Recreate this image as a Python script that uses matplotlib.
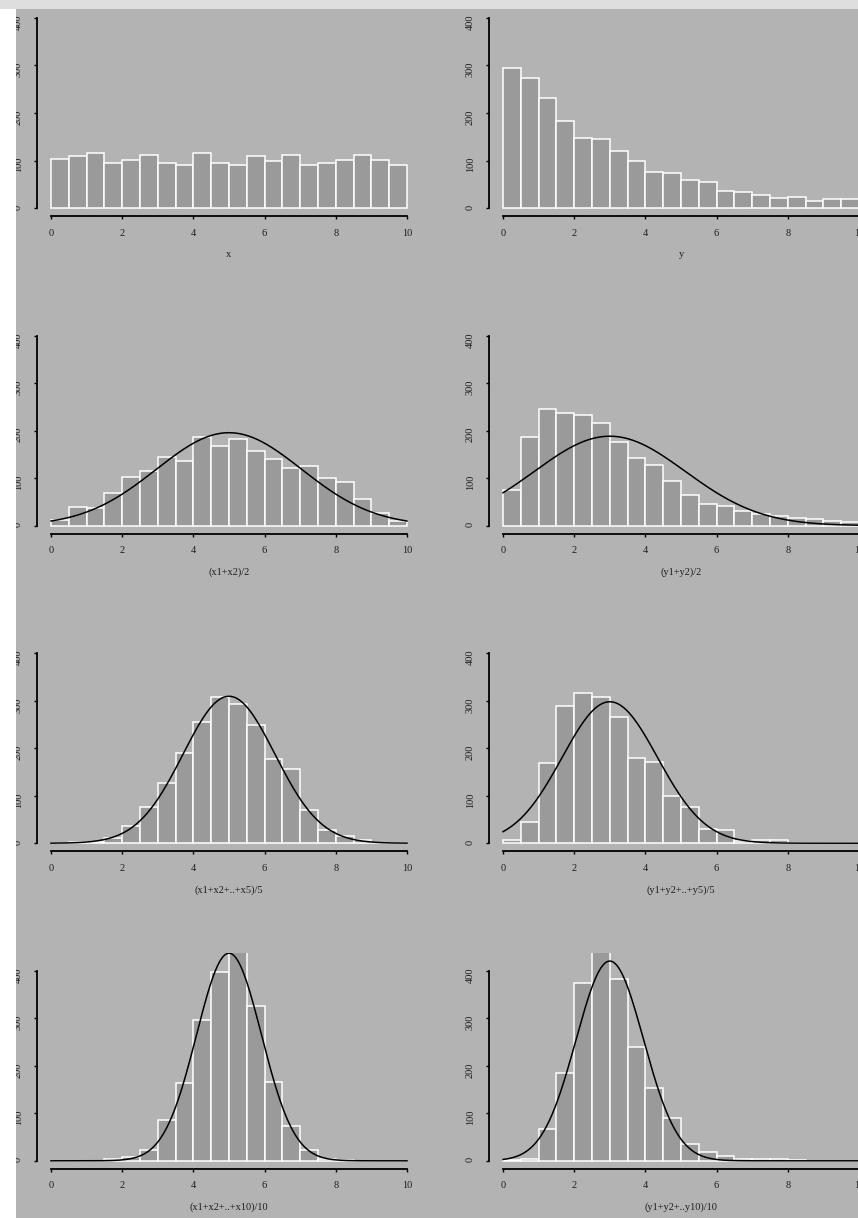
import numpy as np
import matplotlib
matplotlib.use("Agg")
import matplotlib.pyplot as plt
from matplotlib.patches import Rectangle

# histogram bins (width 0.5 on 0..10)
bin_edges = np.arange(0, 10.5, 0.5)

# counts per bin
counts_x = [104, 109, 115, 94, 102, 112, 94, 90, 115, 94, 90, 109, 100, 112, 90, 94, 102, 112, 102, 90]
counts_y = [295, 274, 232, 184, 147, 145, 121, 99, 76, 73, 60, 54, 36, 34, 28, 21, 24, 15, 20, 20]
counts_x2 = [12, 39, 38, 68, 102, 115, 145, 135, 187, 168, 182, 157, 140, 121, 125, 100, 91, 55, 27, 9]
counts_y2 = [75, 187, 245, 238, 232, 217, 175, 142, 127, 93, 64, 46, 42, 30, 25, 21, 15, 13, 9, 8]
counts_x5 = [0, 2, 2, 11, 36, 76, 126, 189, 256, 307, 294, 249, 178, 156, 69, 27, 16, 6, 1, 0]
counts_y5 = [6, 44, 168, 288, 316, 307, 265, 180, 170, 99, 76, 29, 27, 5, 7, 6, 1, 1, 1, 0]
counts_x10 = [0, 0, 0, 3, 7, 22, 85, 164, 296, 398, 448, 326, 166, 74, 22, 3, 1, 0, 0, 0]
counts_y10 = [1.5, 3.5, 67, 185, 374, 450, 383, 239, 154, 91, 35, 19, 10, 4, 3, 3, 1, 0, 0, 0]

panel_counts = [counts_x, counts_y, counts_x2, counts_y2,
                counts_x5, counts_y5, counts_x10, counts_y10]
panel_labels = ["x", "y", "(x1+x2)/2", "(y1+y2)/2",
                "(x1+x2+..+x5)/5", "(y1+y2+..+y5)/5",
                "(x1+x2+..+x10)/10", "(y1+y2+..y10)/10"]

# normal curves drawn over the histograms (None = no curve)
curve_mean = [None, None, 5, 3, 5, 3, 5, 3]
curve_sd = [None, None, 2.04, 2.12, 1.29, 1.34, 0.913, 0.949]
curve_scale = 1000  # n * bin width

x_ticks = [0, 2, 4, 6, 8, 10]
y_ticks = [0, 100, 200, 300, 400]

W, H = 858, 1218
canvas = "#b3b3b3"
bar_col = "#9a9a9a"
txt_col = "#1e1e1e"

fig = plt.figure(figsize=(W / 100, H / 100), dpi=100)
fig.patch.set_facecolor(canvas)

col_left = [36.8, 488.8]
row_top = [0, 317.6, 635.2, 952.8]
ax_w, ax_h = 384.4, 216

for i, counts in enumerate(panel_counts):
    r, c = divmod(i, 2)
    ax = fig.add_axes([col_left[c] / W, 1 - (row_top[r] + ax_h) / H, ax_w / W, ax_h / H])
    ax.set_facecolor("none")
    ax.bar(bin_edges[:-1], counts, width=0.5, align="edge",
           color=bar_col, edgecolor="white", linewidth=1.1)
    if curve_mean[i] is not None:
        xs = np.linspace(0, 10, 400)
        m, s = curve_mean[i], curve_sd[i]
        ys = curve_scale * np.exp(-0.5 * ((xs - m) / s) ** 2) / (np.sqrt(2 * np.pi) * s)
        ax.plot(xs, ys, color="black", linewidth=1.1)
    ax.set_xlim(-0.4, 10.4)
    ax.set_ylim(-16.8, 437.8)
    ax.spines[["top", "right"]].set_visible(False)
    ax.spines["left"].set_bounds(0, 400)
    ax.spines["bottom"].set_bounds(0, 10)
    for sp in ("left", "bottom"):
        ax.spines[sp].set_linewidth(1.3)
    ax.set_xticks(x_ticks)
    ax.set_yticks(y_ticks)
    ax.tick_params(direction="out", length=2.5, width=1.0, colors="black",
                   labelsize=7.5, labelcolor=txt_col)
    ax.tick_params(axis="x", pad=6.5)
    ax.tick_params(axis="y", pad=7.5, labelrotation=90)
    for lab in ax.get_xticklabels() + ax.get_yticklabels():
        lab.set_family("Liberation Serif")
    ax.set_xlabel(panel_labels[i], family="Liberation Serif", fontsize=7.5,
                  color=txt_col, labelpad=9)

# page chrome around the plot canvas
fig.patches.append(Rectangle((0, (H - 9) / H), 1, 9 / H, transform=fig.transFigure,
                             facecolor="#dedede", edgecolor="none", zorder=10))
fig.patches.append(Rectangle((0, 0), 16 / W, (H - 9) / H, transform=fig.transFigure,
                             facecolor="white", edgecolor="none", zorder=10))

fig.savefig("out.png", dpi=100, facecolor=canvas)
